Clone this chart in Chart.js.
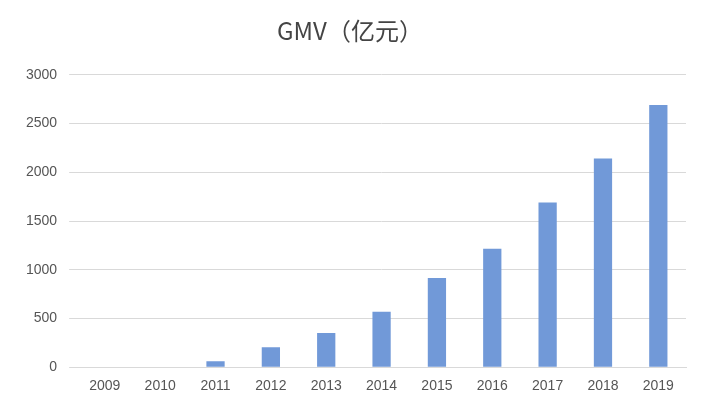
<!DOCTYPE html>
<html>
<head>
<meta charset="utf-8">
<script src="https://cdn.jsdelivr.net/npm/chart.js@4"></script>
<style>
  body { margin: 0; background: #fff; }
  #wrap { width: 708px; height: 420px; }
</style>
</head>
<body>
<div id="wrap"><canvas id="myChart"></canvas></div>
<script>
const years = ['2009', '2010', '2011', '2012', '2013', '2014', '2015', '2016', '2017', '2018', '2019'];
const gmv = [0, 0, 60, 205, 350, 570, 915, 1215, 1690, 2140, 2690];

const ctx = document.querySelector('#myChart').getContext('2d');

new Chart(ctx, {
    type: 'bar',
    data: {
        labels: years,
        datasets: [{
            label: 'GMV',
            data: gmv,
            backgroundColor: '#7199d8',
            barPercentage: 0.66,
            categoryPercentage: 0.5
        }]
    },
    options: {
        responsive: true,
        maintainAspectRatio: false,
        animation: false,
        layout: { padding: { left: 14, right: 22, top: 12, bottom: 22 } },
        plugins: {
            legend: { display: false },
            title: {
                display: true,
                text: 'GMV（亿元）',
                color: '#444',
                font: { family: '"Noto Sans CJK SC", "Noto Sans"', size: 24, weight: 'normal' },
                padding: { top: 4, bottom: 30 }
            }
        },
        scales: {
            x: {
                grid: { display: false },
                border: { color: '#d9d9d9' },
                ticks: { color: '#555', font: { family: 'Liberation Sans', size: 14 } }
            },
            y: {
                min: 0,
                max: 3000,
                ticks: {
                    stepSize: 500, color: '#555', padding: 12,
                    font: { family: 'Liberation Sans', size: 14 },
                    callback: v => String(v)
                },
                grid: { color: '#d9d9d9' },
                border: { display: false }
            }
        }
    }
});
</script>
</body>
</html>
